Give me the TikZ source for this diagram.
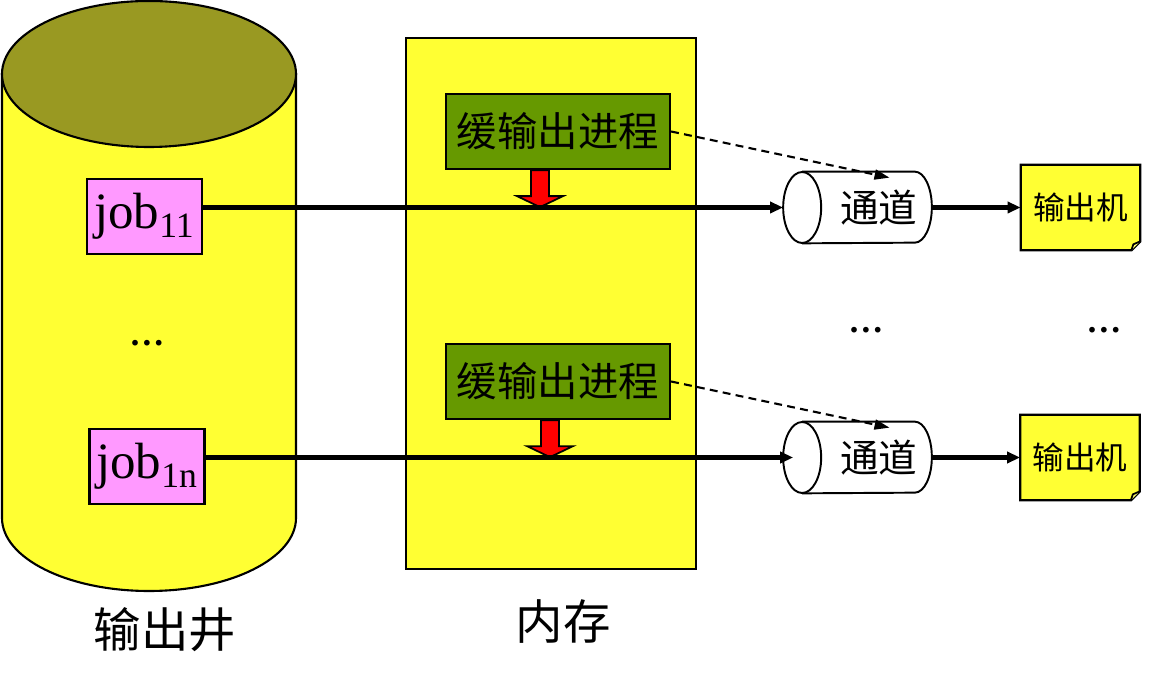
\documentclass[tikz,border=0pt]{standalone}
\usepackage{fontspec}
\setmainfont{Liberation Serif}
\newfontfamily\cjk{Noto Sans CJK SC}
\usetikzlibrary{positioning,calc,arrows.meta}
\definecolor{wellyellow}{RGB}{255,255,51}
\definecolor{welltop}{RGB}{153,153,34}
\definecolor{jobpink}{RGB}{255,153,255}
\definecolor{procgreen}{RGB}{102,153,0}
\begin{document}
\begin{tikzpicture}
        [x=0.02cm,y=0.02cm,
        job/.style={draw,fill=jobpink,line width=1.3pt,minimum width=2.3cm,minimum height=1.5cm,inner sep=0pt,font=\fontsize{29}{29}\selectfont},
        proc/.style={draw,fill=procgreen,line width=1.3pt,minimum width=4.48cm,minimum height=1.5cm,inner sep=0pt,font=\cjk\fontsize{23}{23}\selectfont},
        chan/.style={minimum height=1.42cm,inner xsep=0.28cm,inner ysep=0pt,text width=2.4cm,align=right,font=\cjk\fontsize{22}{22}\selectfont},
        printer/.style={fill=wellyellow,minimum width=2.38cm,minimum height=1.7cm,inner sep=0pt,font=\cjk\fontsize{18}{18}\selectfont},
        flow/.style={line width=2.3pt,-{Triangle[length=0.26cm,width=0.22cm]}},
        ctrl/.style={dash pattern=on 4.5pt off 3pt,line width=1.2pt,-{Triangle[length=0.3cm,width=0.2cm]}},
        pushdown/.style={draw,fill=red,line width=1pt},
        dots/.style={font=\bfseries\fontsize{20}{20}\selectfont},
        caption/.style={font=\cjk\fontsize{27}{27}\selectfont}]
        \useasboundingbox (0,0) rectangle (1152,686);
        % output well
        \draw[fill=wellyellow,line width=1.2pt] (2,612) -- (2,168) arc[start angle=180,end angle=360,x radius=147,y radius=73] -- (296,612) -- cycle;
        \draw[fill=welltop,line width=1.2pt] (149,612) ellipse[x radius=147,y radius=73];
        \node[caption] (welllabel) at (165,56) {输出井};
        \node[job] (job11) at (144.5,469.5) {job\textsubscript{11}};
        \node[dots] (wdots) at (147,343) {…};
        \node[job] (job1n) at (147,219.5) {job\textsubscript{1n}};
        % memory
        \node[draw,fill=wellyellow,line width=1.5pt,minimum width=5.8cm,minimum height=10.62cm] (mem) at (551,382.5) {};
        \node[caption] (memlabel) at (563,64) {内存};
        \node[proc] (proc1) at (558,554.5) {缓输出进程};
        \node[proc] (proc2) at (558,304.5) {缓输出进程};
        \draw[pushdown] ($(proc1.south)+(-27,0)$) -- ++(18,0) -- ++(0,-26) -- ++(14,0) -- ++(-23,-11) -- ++(-23,11) -- ++(14,0) -- cycle;
        \draw[pushdown] ($(proc2.south)+(-17,0)$) -- ++(18,0) -- ++(0,-26) -- ++(14,0) -- ++(-23,-11) -- ++(-23,11) -- ++(14,0) -- cycle;
        % channels
        \node[chan] (ch1) at (857.5,478.5) {通道};
        \node[chan] (ch2) at (857.5,228.5) {通道};
        \foreach \c in {ch1,ch2}{
            \draw[line width=1.1pt] ($(\c.north west)+(19,0)$) -- ($(\c.north east)+(-17,0)$) arc[start angle=90,end angle=-90,x radius=17,y radius=35.5] -- ($(\c.south west)+(19,0)$);
            \draw[line width=1.1pt] ($(\c.west)+(19,0)$) ellipse[x radius=19,y radius=35.5];
        }
        \node[dots] (cdots) at (866,356) {…};
        % printers
        \node[printer] (pr1) at (1080.5,478.5) {输出机};
        \node[printer] (pr2) at (1080,228.5) {输出机};
        \foreach \p in {pr1,pr2}{
            \fill[white] (\p.south east) -- ++(0,9) -- ++(-9,-9) -- cycle;
            \draw[line width=1.3pt] (\p.north west) -- (\p.north east) -- ($(\p.south east)+(0,9)$) -- ($(\p.south east)+(-9,0)$) -- (\p.south west) -- cycle;
            \draw[line width=1pt,fill=wellyellow!70!white] ($(\p.south east)+(-9,0)$) -- ($(\p.south east)+(-7,6)$) -- ($(\p.south east)+(0,9)$);
        }
        \node[dots] (pdots) at (1104,356) {…};
        % data flow
        \draw[flow] (job11.east |- ch1.west) -- (ch1.west);
        \draw[flow] (job1n.east |- ch2.west) -- ($(ch2.west)+(10,0)$);
        \draw[flow] (ch1.east) -- (pr1.west);
        \draw[flow] (ch2.east) -- (pr2.west);
        \draw[ctrl] (proc1.east) -- ($(ch1.north)+(32,-6)$);
        \draw[ctrl] (proc2.east) -- ($(ch2.north)+(32,-6)$);
\end{tikzpicture}
\end{document}
